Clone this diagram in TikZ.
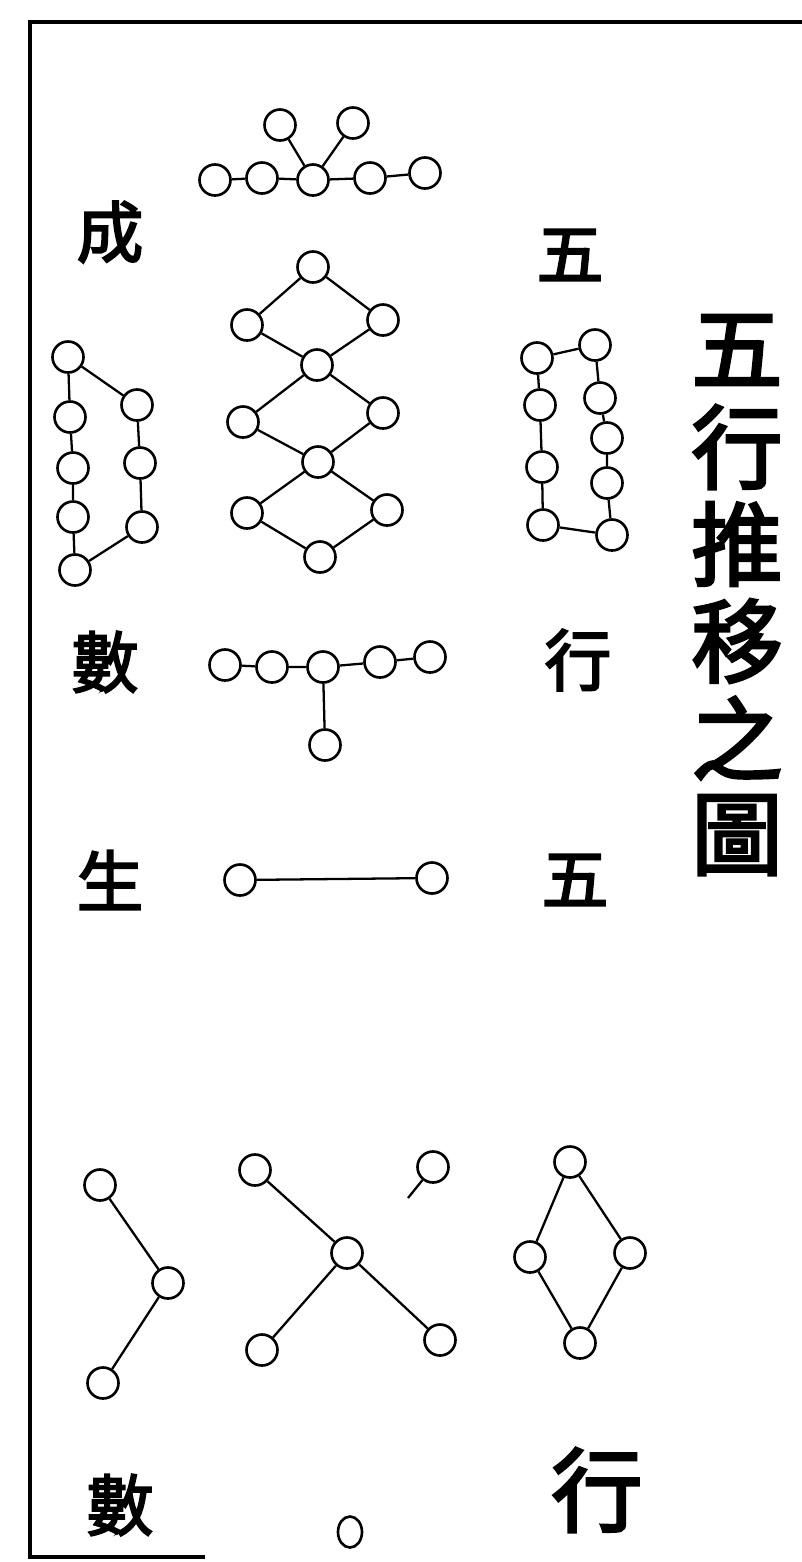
\documentclass[tikz,border=0pt]{standalone}
\usepackage{fontspec}
\usetikzlibrary{shapes.geometric}
\newfontfamily\cjk{Noto Sans CJK TC}[FakeBold=3]
\tikzset{
  ring/.style={
    circle, draw=black, line width=0.75pt, fill=white, inner sep=0pt, minimum size=3.1mm
  },
  link/.style={draw=black, line width=0.65pt},
  glyph/.style={inner sep=0pt, font=\cjk\fontsize{19pt}{19pt}\selectfont},
  bigglyph/.style={inner sep=0pt, font=\cjk\fontsize{26pt}{26pt}\selectfont}
}
\begin{document}
\begin{tikzpicture}[x=0.1mm, y=-0.1mm]
\useasboundingbox (0,0) rectangle (802,1562);

% frame
\coordinate (fTR) at (802,22);
\coordinate (fTL) at (30,22);
\coordinate (fBL) at (30,1557);
\coordinate (fBR) at (205,1557);
\draw[line width=1.1pt] (fTR) -- (fTL) -- (fBL) -- (fBR);

% title
\node[bigglyph] (t1) at (737,350) {五};
\node[bigglyph] (t2) at (737,447) {行};
\node[bigglyph] (t3) at (737,544) {推};
\node[bigglyph] (t4) at (737,641) {移};
\node[bigglyph] (t5) at (737,738) {之};
\node[bigglyph] (t6) at (737,835) {圖};

% side labels
\node[glyph] (cheng) at (110,232) {成};
\node[glyph] (shuA)  at (105,662) {數};
\node[glyph] (sheng) at (110,880) {生};
\node[glyph] (shuB)  at (120,1505) {數};
\node[glyph] (wuA)   at (570,255) {五};
\node[glyph] (hangA) at (578,660) {行};
\node[glyph] (wuB)   at (575,880) {五};
\node[bigglyph] (hangB) at (597,1490) {行};

% top: two above, five in a row
\begin{scope}
  \node[ring] (a1) at (215,180) {};
  \node[ring] (a2) at (262,178) {};
  \node[ring] (a3) at (313,180) {};
  \node[ring] (a4) at (370,178) {};
  \node[ring] (a5) at (425,173) {};
  \node[ring] (a6) at (280,125) {};
  \node[ring] (a7) at (353,123) {};
  \draw[link] (a1) -- (a2) -- (a3) -- (a4) -- (a5);
  \draw[link] (a6) -- (a3) -- (a7);
\end{scope}

% middle: chain of diamonds
\begin{scope}
  \node[ring] (b1)  at (313,267) {};
  \node[ring] (b2)  at (247,325) {};
  \node[ring] (b3)  at (383,320) {};
  \node[ring] (b4)  at (317,365) {};
  \node[ring] (b5)  at (243,422) {};
  \node[ring] (b6)  at (383,413) {};
  \node[ring] (b7)  at (318,462) {};
  \node[ring] (b8)  at (247,513) {};
  \node[ring] (b9)  at (387,510) {};
  \node[ring] (b10) at (320,557) {};
  \draw[link] (b1) -- (b2) -- (b4) -- (b3) -- (b1);
  \draw[link] (b4) -- (b5) -- (b7) -- (b6) -- (b4);
  \draw[link] (b7) -- (b8) -- (b10) -- (b9) -- (b7);
\end{scope}

% left: five and three
\begin{scope}
  \node[ring] (c1) at (68,357) {};
  \node[ring] (c2) at (70,417) {};
  \node[ring] (c3) at (73,468) {};
  \node[ring] (c4) at (73,517) {};
  \node[ring] (c5) at (75,570) {};
  \node[ring] (c6) at (137,405) {};
  \node[ring] (c7) at (140,463) {};
  \node[ring] (c8) at (142,527) {};
  \draw[link] (c1) -- (c2) -- (c3) -- (c4) -- (c5) -- (c8) -- (c7) -- (c6) -- (c1);
\end{scope}

% right: four and five
\begin{scope}
  \node[ring] (d1) at (537,358) {};
  \node[ring] (d2) at (540,405) {};
  \node[ring] (d3) at (542,467) {};
  \node[ring] (d4) at (543,525) {};
  \node[ring] (d5) at (595,345) {};
  \node[ring] (d6) at (600,398) {};
  \node[ring] (d7) at (607,438) {};
  \node[ring] (d8) at (607,483) {};
  \node[ring] (d9) at (612,535) {};
  \draw[link] (d1) -- (d2) -- (d3) -- (d4) -- (d9) -- (d8) -- (d7) -- (d6) -- (d5) -- (d1);
\end{scope}

% row of five with one below
\begin{scope}
  \node[ring] (e1) at (225,665) {};
  \node[ring] (e2) at (272,667) {};
  \node[ring] (e3) at (323,667) {};
  \node[ring] (e4) at (380,662) {};
  \node[ring] (e5) at (430,657) {};
  \node[ring] (e6) at (325,745) {};
  \draw[link] (e1) -- (e2) -- (e3) -- (e4) -- (e5);
  \draw[link] (e3) -- (e6);
\end{scope}

% one line
\node[ring] (f1) at (240,880) {};
\node[ring] (f2) at (432,878) {};
\draw[link] (f1) -- (f2);

% bottom left: bent three
\begin{scope}
  \node[ring] (g1) at (100,1185) {};
  \node[ring] (g2) at (168,1283) {};
  \node[ring] (g3) at (103,1383) {};
  \draw[link] (g1) -- (g2) -- (g3);
\end{scope}

% bottom middle: cross
\begin{scope}
  \node[ring] (h1) at (255,1170) {};
  \node[ring] (h2) at (433,1167) {};
  \node[ring] (h3) at (347,1253) {};
  \node[ring] (h4) at (262,1350) {};
  \node[ring] (h5) at (440,1340) {};
  \coordinate (hstub) at (408,1198);
  \draw[link] (h1) -- (h3) -- (h4);
  \draw[link] (h3) -- (h5);
  \draw[link] (h2) -- (hstub);
\end{scope}

% bottom right: diamond
\begin{scope}
  \node[ring] (k1) at (570,1162) {};
  \node[ring] (k2) at (530,1257) {};
  \node[ring] (k3) at (630,1253) {};
  \node[ring] (k4) at (580,1343) {};
  \draw[link] (k1) -- (k2) -- (k4) -- (k3) -- (k1);
\end{scope}

% lone ring at the foot
\node[ring, ellipse, minimum width=2.4mm, minimum height=3.1mm] (m1) at (350,1532) {};

\end{tikzpicture}
\end{document}
